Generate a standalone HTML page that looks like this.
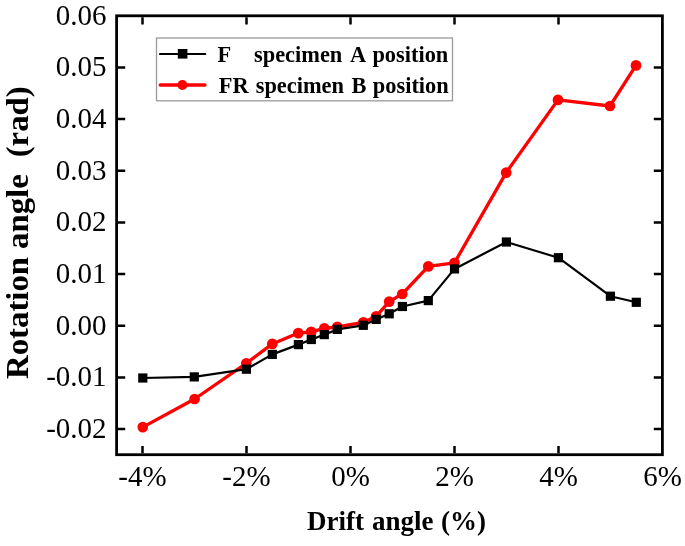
<!DOCTYPE html><html><head><meta charset="utf-8"><style>html,body{margin:0;padding:0;background:#fff;width:685px;height:546px;overflow:hidden}svg{display:block;filter:blur(0.4px)}text{font-family:"Liberation Serif",serif}</style></head><body>
<svg width="685" height="546" viewBox="0 0 685 546">
<path d="M142.5,453.3V446.1M142.5,17.2V24.4M246.5,453.3V446.1M246.5,17.2V24.4M350.5,453.3V446.1M350.5,17.2V24.4M454.5,453.3V446.1M454.5,17.2V24.4M558.5,453.3V446.1M558.5,17.2V24.4M118.0,67.5H125.2M661.0,67.5H653.8M118.0,119.1H125.2M661.0,119.1H653.8M118.0,170.8H125.2M661.0,170.8H653.8M118.0,222.4H125.2M661.0,222.4H653.8M118.0,274.1H125.2M661.0,274.1H653.8M118.0,325.8H125.2M661.0,325.8H653.8M118.0,377.4H125.2M661.0,377.4H653.8M118.0,429.1H125.2M661.0,429.1H653.8" stroke="#000" stroke-width="2.5" fill="none"/>
<rect x="116.6" y="15.8" width="545.8" height="438.9" fill="none" stroke="#000" stroke-width="2.8"/>
<g transform="translate(0,14.60) scale(1,1.035) translate(0,-14.60)"><text x="106.6" y="24.2" font-size="29" text-anchor="end">0.06</text></g>
<g transform="translate(0,66.26) scale(1,1.035) translate(0,-66.26)"><text x="106.6" y="75.9" font-size="29" text-anchor="end">0.05</text></g>
<g transform="translate(0,117.92) scale(1,1.035) translate(0,-117.92)"><text x="106.6" y="127.5" font-size="29" text-anchor="end">0.04</text></g>
<g transform="translate(0,169.58) scale(1,1.035) translate(0,-169.58)"><text x="106.6" y="179.2" font-size="29" text-anchor="end">0.03</text></g>
<g transform="translate(0,221.24) scale(1,1.035) translate(0,-221.24)"><text x="106.6" y="230.8" font-size="29" text-anchor="end">0.02</text></g>
<g transform="translate(0,272.90) scale(1,1.035) translate(0,-272.90)"><text x="106.6" y="282.5" font-size="29" text-anchor="end">0.01</text></g>
<g transform="translate(0,324.56) scale(1,1.035) translate(0,-324.56)"><text x="106.6" y="334.2" font-size="29" text-anchor="end">0.00</text></g>
<g transform="translate(0,376.22) scale(1,1.035) translate(0,-376.22)"><text x="106.6" y="385.8" font-size="29" text-anchor="end">-0.01</text></g>
<g transform="translate(0,427.88) scale(1,1.035) translate(0,-427.88)"><text x="106.6" y="437.5" font-size="29" text-anchor="end">-0.02</text></g>
<g transform="translate(0,476.50) scale(1,1.035) translate(0,-476.50)"><text x="142.5" y="485.5" font-size="29" text-anchor="middle">-4%</text></g>
<g transform="translate(0,476.50) scale(1,1.035) translate(0,-476.50)"><text x="246.5" y="485.5" font-size="29" text-anchor="middle">-2%</text></g>
<g transform="translate(0,476.50) scale(1,1.035) translate(0,-476.50)"><text x="350.5" y="485.5" font-size="29" text-anchor="middle">0%</text></g>
<g transform="translate(0,476.50) scale(1,1.035) translate(0,-476.50)"><text x="454.5" y="485.5" font-size="29" text-anchor="middle">2%</text></g>
<g transform="translate(0,476.50) scale(1,1.035) translate(0,-476.50)"><text x="558.5" y="485.5" font-size="29" text-anchor="middle">4%</text></g>
<g transform="translate(0,476.50) scale(1,1.035) translate(0,-476.50)"><text x="662.5" y="485.5" font-size="29" text-anchor="middle">6%</text></g>
<g transform="translate(0,521.00) scale(1,1.05) translate(0,-521.00)"><text y="530" font-size="27" font-weight="bold"><tspan x="307">Drift</tspan><tspan x="372">angle</tspan><tspan x="441">(%)</tspan></text></g>
<g transform="translate(0,317.60) scale(1,1.025) translate(0,-317.60)"><text transform="rotate(-90)" x="-377.5" y="28" font-size="32" font-weight="bold">Rotation</text></g>
<g transform="translate(0,211.00) scale(1,1.025) translate(0,-211.00)"><text transform="rotate(-90)" x="-248" y="28" font-size="32" font-weight="bold">angle</text></g>
<g transform="translate(0,122.20) scale(1,1.025) translate(0,-122.20)"><text transform="rotate(-90)" x="-156.5" y="28" font-size="32" font-weight="bold">(rad)</text></g>
<polyline points="142.8,427.1 194.6,399.0 246.3,363.3 272.3,343.9 298.3,333.1 311.2,331.9 324.3,328.4 337.3,326.8 363.3,322.4 376.1,316.3 389.2,301.6 402.3,294.0 428.3,266.4 454.5,262.8 506.2,172.6 558.0,99.9 610.0,106.0 636.0,65.4" fill="none" stroke="#f00" stroke-width="3.3" stroke-linejoin="round"/>
<circle cx="142.8" cy="427.1" r="5.35" fill="#f00"/>
<circle cx="194.6" cy="399" r="5.35" fill="#f00"/>
<circle cx="246.3" cy="363.3" r="5.35" fill="#f00"/>
<circle cx="272.3" cy="343.9" r="5.35" fill="#f00"/>
<circle cx="298.3" cy="333.1" r="5.35" fill="#f00"/>
<circle cx="311.2" cy="331.9" r="5.35" fill="#f00"/>
<circle cx="324.3" cy="328.4" r="5.35" fill="#f00"/>
<circle cx="337.3" cy="326.8" r="5.35" fill="#f00"/>
<circle cx="363.3" cy="322.4" r="5.35" fill="#f00"/>
<circle cx="376.1" cy="316.3" r="5.35" fill="#f00"/>
<circle cx="389.2" cy="301.6" r="5.35" fill="#f00"/>
<circle cx="402.3" cy="294" r="5.35" fill="#f00"/>
<circle cx="428.3" cy="266.4" r="5.35" fill="#f00"/>
<circle cx="454.5" cy="262.8" r="5.35" fill="#f00"/>
<circle cx="506.2" cy="172.6" r="5.35" fill="#f00"/>
<circle cx="558" cy="99.9" r="5.35" fill="#f00"/>
<circle cx="610" cy="106" r="5.35" fill="#f00"/>
<circle cx="636" cy="65.4" r="5.35" fill="#f00"/>
<polyline points="142.8,378.0 194.3,376.9 246.4,369.2 272.3,354.4 298.4,344.6 311.3,339.5 324.3,334.6 337.3,329.4 363.3,325.3 376.2,319.4 389.2,313.8 402.4,306.5 428.3,300.6 454.5,268.9 506.4,242.0 558.4,257.7 610.4,296.2 636.3,302.3" fill="none" stroke="#000" stroke-width="2.2" stroke-linejoin="round"/>
<rect x="138.2" y="373.4" width="9.2" height="9.2" fill="#000"/>
<rect x="189.7" y="372.3" width="9.2" height="9.2" fill="#000"/>
<rect x="241.8" y="364.6" width="9.2" height="9.2" fill="#000"/>
<rect x="267.7" y="349.8" width="9.2" height="9.2" fill="#000"/>
<rect x="293.8" y="340.0" width="9.2" height="9.2" fill="#000"/>
<rect x="306.7" y="334.9" width="9.2" height="9.2" fill="#000"/>
<rect x="319.7" y="330.0" width="9.2" height="9.2" fill="#000"/>
<rect x="332.7" y="324.8" width="9.2" height="9.2" fill="#000"/>
<rect x="358.7" y="320.7" width="9.2" height="9.2" fill="#000"/>
<rect x="371.6" y="314.8" width="9.2" height="9.2" fill="#000"/>
<rect x="384.6" y="309.2" width="9.2" height="9.2" fill="#000"/>
<rect x="397.8" y="301.9" width="9.2" height="9.2" fill="#000"/>
<rect x="423.7" y="296.0" width="9.2" height="9.2" fill="#000"/>
<rect x="449.9" y="264.3" width="9.2" height="9.2" fill="#000"/>
<rect x="501.8" y="237.4" width="9.2" height="9.2" fill="#000"/>
<rect x="553.8" y="253.1" width="9.2" height="9.2" fill="#000"/>
<rect x="605.8" y="291.6" width="9.2" height="9.2" fill="#000"/>
<rect x="631.7" y="297.7" width="9.2" height="9.2" fill="#000"/>
<rect x="156.5" y="38" width="296" height="62.8" fill="#fff" stroke="#9a9a9a" stroke-width="1.3"/>
<path d="M160,54H205.3" stroke="#000" stroke-width="2.1" stroke-linecap="round"/>
<rect x="177.8" y="49" width="9.6" height="9.6" fill="#000"/>
<path d="M160.2,85H205" stroke="#f00" stroke-width="3.3" stroke-linecap="round"/>
<circle cx="182.4" cy="85" r="5" fill="#f00"/>
<g transform="translate(0,55.00) scale(1,1.04) translate(0,-55.00)"><text y="62" font-size="22.4" font-weight="bold"><tspan x="217.4">F</tspan><tspan x="254">specimen</tspan><tspan x="350">A</tspan><tspan x="372.4">position</tspan></text></g>
<g transform="translate(0,85.80) scale(1,1.04) translate(0,-85.80)"><text y="92.8" font-size="22.4" font-weight="bold"><tspan x="218.8">FR</tspan><tspan x="255.7">specimen</tspan><tspan x="351.5">B</tspan><tspan x="372.8">position</tspan></text></g>
</svg></body></html>
